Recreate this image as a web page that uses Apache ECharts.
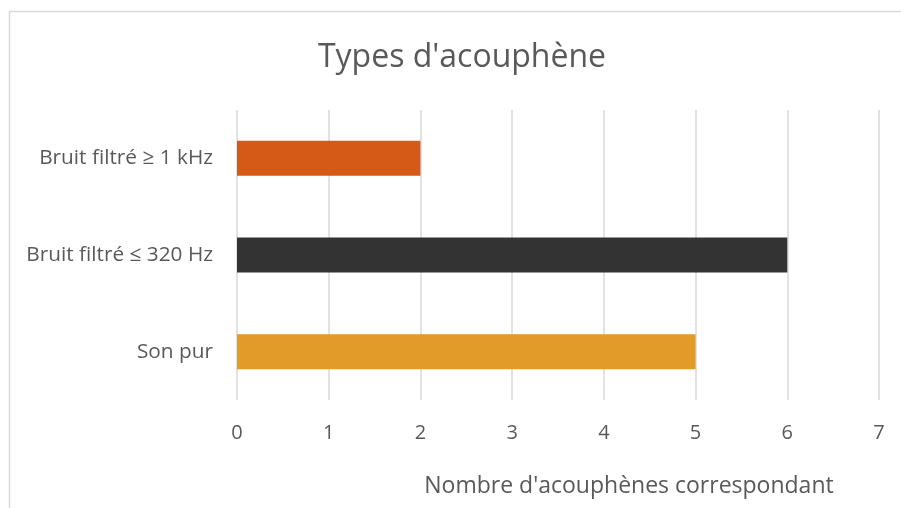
<!DOCTYPE html>
<html>
<head>
<meta charset="utf-8">
<script src="https://cdn.jsdelivr.net/npm/echarts@6/dist/echarts.min.js"></script>
<style>
  html, body { margin: 0; padding: 0; background: #ffffff; }
  #chart { width: 901px; height: 508px; }
</style>
</head>
<body>
<div id="chart"></div>
<script>
// Tinnitus types and their counts (bottom to top on the category axis)
const categories = ['Son pur', 'Bruit filtré ≤ 320 Hz', 'Bruit filtré ≥ 1 kHz'];
const counts = [5, 6, 2];
const barColors = ['#E29A28', '#333333', '#D55A17'];
const xTicks = [0, 1, 2, 3, 4, 5, 6, 7];

const FONT = '"Open Sans", Lato, sans-serif';
const TEXT = '#595959';

const chart = echarts.init(document.getElementById('chart'), null, { renderer: 'canvas' });

chart.setOption({
  animation: false,
  backgroundColor: '#ffffff',
  title: [
    {
      text: "Types d'acouphène",
      left: 457, top: 37, textAlign: 'center',
      textStyle: { fontFamily: FONT, fontSize: 32, fontWeight: 'normal', color: TEXT }
    },
    {
      text: "Nombre d'acouphènes correspondant",
      left: 624, top: 470, textAlign: 'center',
      textStyle: { fontFamily: FONT, fontSize: 23, fontWeight: 'normal', color: TEXT }
    }
  ],
  graphic: [{
    type: 'rect',
    shape: { x: 9.5, y: 11.5, width: 900, height: 520 },
    style: { fill: 'none', stroke: '#D9D9D9', lineWidth: 1.5 },
    silent: true
  }],
  grid: { left: 237, right: 22, top: 110, bottom: 108, containLabel: false },
  xAxis: {
    type: 'value',
    min: xTicks[0], max: xTicks[xTicks.length - 1], interval: 1,
    axisLine: { show: false },
    axisTick: { show: false },
    splitLine: { show: true, lineStyle: { color: '#D9D9D9', width: 1.5 } },
    axisLabel: { fontFamily: FONT, fontSize: 20, color: TEXT, margin: 23 }
  },
  yAxis: {
    type: 'category',
    data: categories,
    axisLine: { show: false },
    axisTick: { show: false },
    axisLabel: { fontFamily: FONT, fontSize: 20.8, color: TEXT, margin: 24 }
  },
  series: [{
    type: 'bar',
    data: counts.map((v, i) => ({ value: v, itemStyle: { color: barColors[i] } })),
    barWidth: 35
  }]
});
</script>
</body>
</html>
